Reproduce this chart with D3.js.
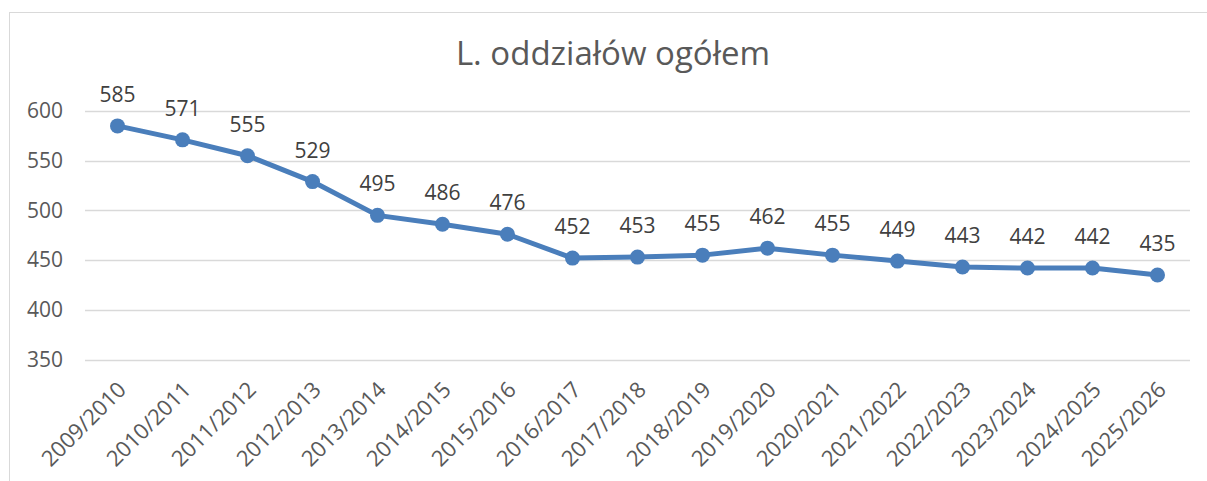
<!DOCTYPE html>
<html>
<head>
<meta charset="utf-8">
<script src="https://cdn.jsdelivr.net/npm/d3@7"></script>
<style>
  body { margin: 0; background: #fff; }
  svg { display: block; font-family: "Open Sans", sans-serif; }
</style>
</head>
<body>
<svg id="chart" width="1207" height="481"></svg>
<script>
// data
var years = ["2009/2010", "2010/2011", "2011/2012", "2012/2013", "2013/2014", "2014/2015",
  "2015/2016", "2016/2017", "2017/2018", "2018/2019", "2019/2020", "2020/2021",
  "2021/2022", "2022/2023", "2023/2024", "2024/2025", "2025/2026"];
var oddzialy = [585, 571, 555, 529, 495, 486, 476, 452, 453, 455, 462, 455, 449, 443, 442, 442, 435];
var yTicks = [350, 400, 450, 500, 550, 600];

var svg = d3.select("#chart");
var grey = "#595959", blue = "#4a7ebb";

// chart border (runs off the right/bottom edge)
svg.append("rect")
    .attr("x", 9.5).attr("y", 12.5)
    .attr("width", 1220).attr("height", 500)
    .attr("fill", "none")
    .attr("stroke", "#d9d9d9");

var x = d3.scaleBand().domain(years).range([85, 1190]);
var y = d3.scaleLinear().domain([350, 600]).range([359.5, 111]);

// gridlines
svg.append("g")
  .selectAll("line")
  .data(yTicks)
  .enter().append("line")
    .attr("x1", 85).attr("x2", 1190)
    .attr("y1", function(d) { return Math.round(y(d)) + 0.5; })
    .attr("y2", function(d) { return Math.round(y(d)) + 0.5; })
    .attr("stroke", "#d9d9d9")
    .attr("stroke-width", 1.5);

// y axis labels
var yAxis = svg.append("g")
    .attr("transform", "translate(63,0)")
    .call(d3.axisLeft(y).tickValues(yTicks).tickSize(0).tickPadding(0));
yAxis.select(".domain").remove();
yAxis.selectAll("text")
    .attr("fill", grey)
    .style("font-size", "21px")
    .style("font-family", "Open Sans");

// x axis labels, rotated
var xAxis = svg.append("g")
    .attr("transform", "translate(0,368)")
    .call(d3.axisBottom(x).tickSize(0).tickPadding(0));
xAxis.select(".domain").remove();
xAxis.selectAll("text")
    .attr("fill", grey)
    .style("font-size", "22px")
    .style("font-family", "Open Sans")
    .attr("text-anchor", "end")
    .attr("dy", "0")
    .attr("transform", "translate(10,23) rotate(-45)");

// title
svg.append("text")
    .attr("x", 613).attr("y", 65)
    .attr("text-anchor", "middle")
    .attr("fill", grey)
    .style("font-size", "33px")
    .text("L. oddziałów ogółem");

var cx = function(d, i) { return x(years[i]) + x.bandwidth() / 2; };

var line = d3.line()
    .x(function(d, i) { return cx(d, i); })
    .y(function(d) { return y(d); });

svg.append("path")
    .datum(oddzialy)
    .attr("d", line)
    .attr("fill", "none")
    .attr("stroke", blue)
    .attr("stroke-width", 5)
    .attr("stroke-linejoin", "round");

svg.append("g")
  .selectAll("circle")
  .data(oddzialy)
  .enter().append("circle")
    .attr("cx", cx)
    .attr("cy", function(d) { return y(d); })
    .attr("r", 7.5)
    .attr("fill", blue);

// data labels
svg.append("g")
  .selectAll("text")
  .data(oddzialy)
  .enter().append("text")
    .attr("x", cx)
    .attr("y", function(d) { return y(d) - 24; })
    .attr("text-anchor", "middle")
    .attr("fill", "#404040")
    .style("font-size", "21px")
    .text(function(d) { return d; });
</script>
</body>
</html>
